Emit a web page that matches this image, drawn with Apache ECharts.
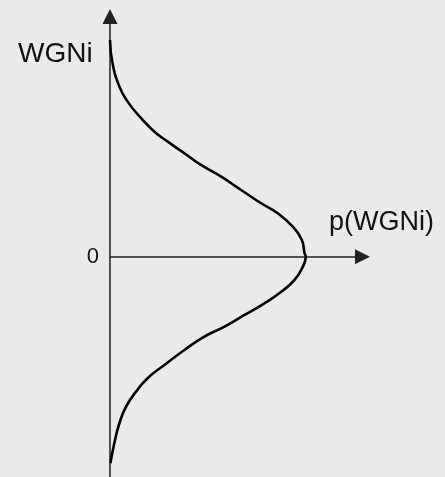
<!DOCTYPE html>
<html>
<head>
<meta charset="utf-8">
<script src="https://cdn.jsdelivr.net/npm/echarts@6/dist/echarts.min.js"></script>
<style>
  html, body { margin: 0; padding: 0; background: #eaeaea; }
  #chart1 { width: 445px; height: 477px; }
</style>
</head>
<body>
<div id="chart1"></div>
<script>
// 曲线数据：纵轴 WGNi，横轴 p(WGNi)（峰值 = 1）
var wgniValues = [2.951, 2.633, 2.315, 2.111, 1.885, 1.702, 1.566, 1.408, 1.249, 1.089, 0.908, 0.727, 0.591, 0.408, 0.227, 0.046, 0,
  -0.136, -0.317, -0.477, -0.635, -0.794, -0.953, -1.089, -1.270, -1.474, -1.655, -1.838, -2.042, -2.268, -2.541, -2.813];
var pValues = [0, 0.013, 0.048, 0.090, 0.159, 0.227, 0.295, 0.380, 0.465, 0.568, 0.670, 0.772, 0.857, 0.934, 0.980, 0.994, 1.0,
  0.985, 0.943, 0.875, 0.789, 0.687, 0.585, 0.482, 0.380, 0.278, 0.192, 0.133, 0.082, 0.048, 0.022, 0.002];
var yTickLabels = ['0'];

var curve = pValues.map(function (p, i) { return [p, wgniValues[i]]; });

var myChart1 = echarts.init(document.getElementById('chart1'));

var option1 = {
    backgroundColor: '#eaeaea',
    animation: false,
    grid: {
        left: 110,
        top: 16.5,
        width: 252.5,
        bottom: 0
    },
    xAxis: {
        type: 'value',
        min: 0,
        max: 1.29,
        axisLine: {
            onZero: true,
            symbol: ['none', 'triangle'],
            symbolSize: [15, 15],
            lineStyle: { color: '#222', width: 1.5 }
        },
        axisTick: { show: false },
        axisLabel: { show: false },
        splitLine: { show: false }
    },
    yAxis: {
        type: 'value',
        min: -3,
        max: 3.27,
        interval: 1,
        axisLine: {
            symbol: ['none', 'triangle'],
            symbolSize: [15, 15],
            lineStyle: { color: '#222', width: 1.5 }
        },
        axisTick: { show: false },
        axisLabel: {
            margin: 11,
            color: '#111',
            fontFamily: '"Liberation Sans", Arial, sans-serif',
            fontSize: 22,
            padding: [6, 0, 0, 0],
            showMaxLabel: false,
            formatter: function (v) {
                return yTickLabels.indexOf(String(v)) >= 0 ? String(v) : '';
            }
        },
        splitLine: { show: false }
    },
    graphic: [
        {
            type: 'text',
            left: 18,
            top: 40,
            style: {
                text: 'WGNi',
                fill: '#111',
                font: '28px "Liberation Sans", Arial, sans-serif'
            }
        },
        {
            type: 'text',
            left: 329,
            top: 209,
            style: {
                text: 'p(WGNi)',
                fill: '#111',
                font: '27px "Liberation Sans", Arial, sans-serif'
            }
        }
    ],
    series: [
        {
            type: 'line',
            data: curve,
            smooth: 0.5,
            showSymbol: false,
            lineStyle: { color: '#000', width: 2.6 }
        }
    ]
};

myChart1.setOption(option1);
</script>
</body>
</html>
